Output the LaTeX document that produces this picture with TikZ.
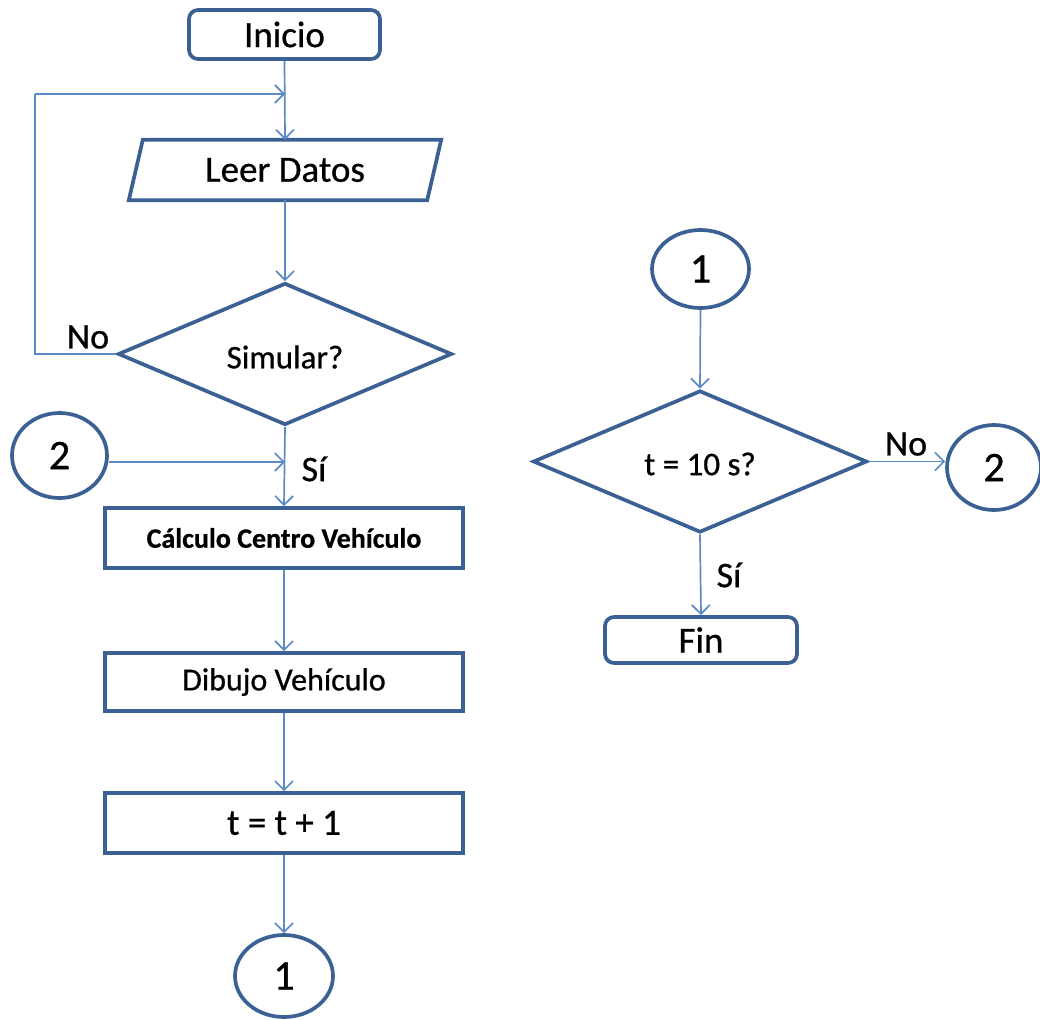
\documentclass[tikz,border=0pt]{standalone}
\usepackage{fontspec}
\setmainfont{Carlito}[FakeBold=0.7]
\usetikzlibrary{arrows.meta,shapes.geometric}

\definecolor{shapeblue}{HTML}{3B6094}
\definecolor{linkblue}{HTML}{5B8AC6}

\tikzset{
  box/.style={draw=shapeblue, line width=3.7pt, fill=white, inner sep=0pt},
  terminal/.style={box, rounded corners=9pt},
  process/.style={box},
  decision/.style={box, diamond, minimum width=334pt, minimum height=142pt},
  connector/.style={box, ellipse, font=\fontsize{42}{48}\selectfont},
  iobox/.style={inner sep=0pt},
  link/.style={draw=linkblue, line width=1.7pt,
    -{Straight Barb[length=9pt,width=18pt,line width=1.7pt]}},
  plain/.style={draw=linkblue, line width=1.7pt},
  big/.style={font=\fontsize{37}{44}\selectfont},
  mid/.style={font=\fontsize{33}{40}\selectfont},
  lbl/.style={font=\fontsize{36}{43}\selectfont, inner sep=0pt},
}

\begin{document}
\begin{tikzpicture}[x=1pt, y=-1pt]
\useasboundingbox (0,0) rectangle (1040,1019);

% ---- main flow ----
\node[terminal, big, minimum width=191pt, minimum height=49pt] (inicio) at (284.5,34.5) {Inicio};

\node[iobox, big, minimum width=298pt, minimum height=60pt] (leer) at (285,170) {Leer Datos};
\draw[shapeblue, line width=3.7pt, line join=miter]
  ([xshift=7pt]leer.north west) -- ([xshift=7pt]leer.north east)
  -- ([xshift=-7pt]leer.south east) -- ([xshift=-7pt]leer.south west) -- cycle;

\node[decision, mid] (sim) at (285,354) {};
\node[mid] at (285,357) {Simular?};

\node[process, font=\bfseries\fontsize{28}{34}\selectfont,
      minimum width=358pt, minimum height=60pt] (calc) at (284,538) {Cálculo Centro Vehículo};
\node[process, font=\fontsize{32}{38}\selectfont,
      minimum width=358pt, minimum height=58pt] (dib) at (284,682) {Dibujo Vehículo};
\node[process, big, minimum width=358pt, minimum height=60pt] (inc) at (284,823) {t = t + 1};

\node[connector, minimum width=98pt, minimum height=82pt] (outA) at (284,976) {1};
\node[connector, minimum width=95pt, minimum height=85pt] (inB) at (59.5,455.5) {2};

% ---- second flow ----
\node[connector, minimum width=97pt, minimum height=78pt] (inA) at (700.5,269) {1};
\node[decision, mid] (tcheck) at (700,461.5) {};
\node[mid] at (700,464) {t = 10 s?};
\node[connector, minimum width=94pt, minimum height=85pt] (outB) at (994,467.5) {2};
\node[terminal, big, minimum width=192pt, minimum height=46pt] (fin) at (701,640) {Fin};

% ---- connectors, main flow ----
\coordinate (loopin) at (285,94);
\coordinate (loopcorner) at (35,94);
\coordinate (joinB) at (285,462);

\draw[link] (inicio.south) -- (leer.north);
\draw[link] (leer.south) -- (sim.north);
\draw[plain] (sim.west) -- (sim.west -| loopcorner) -- (loopcorner);
\draw[link] (loopcorner) -- (loopin);
\draw[link] (sim.south) -- (calc.north);
\draw[link] (inB.east |- joinB) -- (joinB);
\draw[link] (calc.south) -- (dib.north);
\draw[link] (dib.south) -- (inc.north);
\draw[link] (inc.south) -- (outA.north);

\node[lbl] (noA) at (88,337) {No};
\node[lbl] (siA) at (314,469) {Sí};

% ---- connectors, second flow ----
\draw[link] (inA.south) -- (tcheck.north);
\draw[link] (tcheck.east) -- (outB.west |- tcheck.east);
\draw[link] (tcheck.south) -- (fin.north);

\node[lbl] (noB) at (906,444) {No};
\node[lbl] (siB) at (729,575) {Sí};
\end{tikzpicture}
\end{document}
